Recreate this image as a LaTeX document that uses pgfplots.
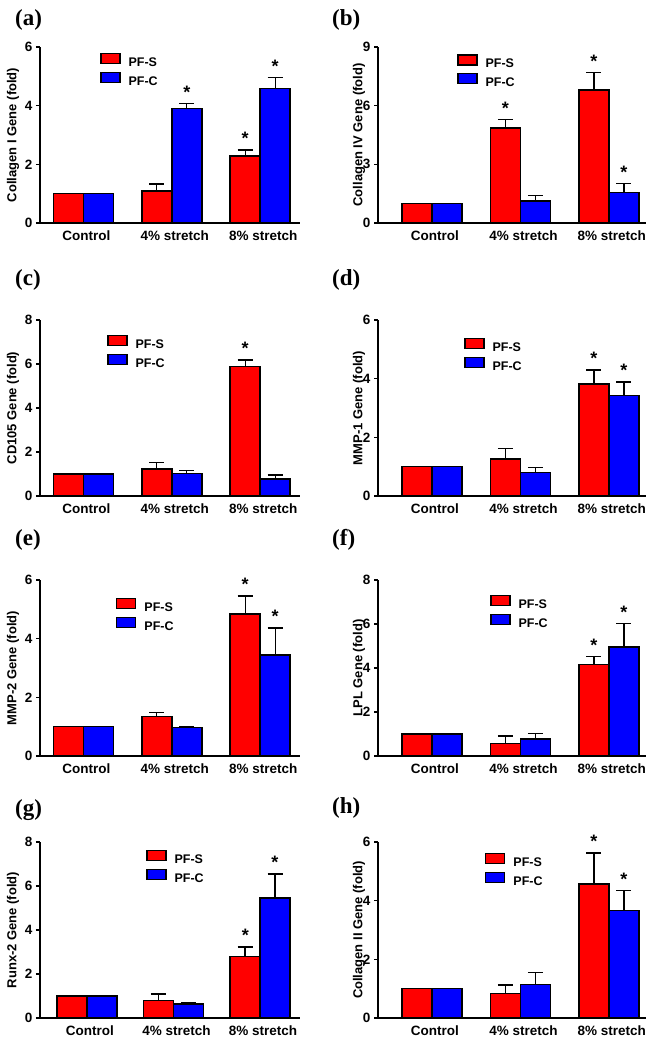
\documentclass[border=0pt]{standalone}
\usepackage{fontspec}
\setmainfont{Liberation Sans}
\newfontfamily\timesf{Liberation Serif}
\usepackage{pgfplots}
\pgfplotsset{compat=1.18}
\definecolor{legblue}{RGB}{150,150,210}
\newcommand{\tfont}{\fontsize{13.5}{15}\selectfont\bfseries}
\pgfplotsset{
 panel/.style={scale only axis, height=176pt, ymin=0, ybar=0pt, bar width=30pt,
   axis x line*=bottom, axis y line*=left,
   axis line style={line width=1.8pt, black},
   xtick={0,1,2}, xticklabels={Control,4\% stretch,8\% stretch},
   x tick style={draw=none}, y tick style={line width=1.5pt, black},
   tick align=outside, major tick length=4pt,
   ticklabel style={font=\tfont}, xticklabel style={xshift=3pt},
   /pgf/number format/assume math mode=true, clip=false,
   ylabel style={font=\fontsize{13}{15}\selectfont\bfseries, anchor=center},
   legend cell align=left,
   legend style={draw=none, fill=none, inner sep=0pt, outer sep=0pt, anchor=north west,
     font=\fontsize{12.5}{14}\selectfont\bfseries, row sep=2.5pt, column sep=7pt,
     nodes={inner sep=1pt}}},
 starax/.style={scale only axis, height=176pt, ymin=0, hide axis, clip=false},
 leftc/.style={at={(40pt,#1)}, anchor=south west, width=260pt, xmin=-0.49, xmax=2.45,
   ylabel style={at={(axis description cs:-0.104,0.5)}}},
 rightc/.style={at={(378pt,#1)}, anchor=south west, width=268pt, xmin=-0.61, xmax=2.42,
   ylabel style={at={(axis description cs:-0.071,0.5)}}},
 redbar/.style={fill=red, draw=black, line width=1.5pt,
   postaction={draw=black, line width=1.5pt},
   legend image code/.code={\draw[fill=red, draw=black, line width=1.3pt] (0pt,-0.5pt) rectangle (19pt,9.5pt);},
   error bars/y dir=plus, error bars/y explicit,
   error bars/error bar style={line width=1.3pt, black},
   error bars/error mark options={rotate=90, mark size=7.5pt, line width=1.3pt, black}},
 bluebar/.style={fill=blue, draw=black, line width=1.5pt,
   postaction={draw=black, line width=1.5pt},
   legend image code/.code={\draw[fill=blue, draw=legblue, line width=1.3pt] (0pt,-0.5pt) rectangle (19pt,9.5pt);},
   error bars/y dir=plus, error bars/y explicit,
   error bars/error bar style={line width=1.3pt, black},
   error bars/error mark options={rotate=90, mark size=7.5pt, line width=1.3pt, black}},
 stars/.style={draw=none, mark=none, nodes near coords={*},
   every node near coord/.append style={font=\fontsize{18}{18}\selectfont\bfseries, black, inner sep=1pt, anchor=south, yshift=4pt}},
}
\begin{document}
\begin{tikzpicture}[x=1pt,y=1pt]
\useasboundingbox (0,0) rectangle (663pt,-1045pt);
% panel labels
\foreach \lab/\px/\py in {(a)/15/-20,(b)/332/-20,(c)/15/-280,(d)/332/-280,(e)/15/-540,(f)/332/-540,(g)/15/-810,(h)/332/-808}{
  \node[anchor=west, inner sep=0pt, font=\timesf\bfseries\fontsize{23}{23}\selectfont] at (\px pt,\py pt) {\lab};
}
% (a)
\begin{axis}[panel, leftc=-223pt, ymax=6, ytick={0,2,4,6}, ylabel={Collagen I Gene (fold)}, legend style={at={(0.231,0.966)}}]
\addplot[redbar] coordinates {(0,1) +- (0,0) (1,1.09) +- (0,0.24) (2,2.29) +- (0,0.20)};
\addplot[bluebar] coordinates {(0,1) +- (0,0) (1,3.90) +- (0,0.18) (2,4.59) +- (0,0.38)};
\legend{PF-S,PF-C}
\end{axis}
\begin{axis}[starax, leftc=-223pt, ymax=6]
\addplot[stars] coordinates {(1.17,4.08) (1.83,2.49) (2.17,4.97)};
\end{axis}
% (b)
\begin{axis}[panel, rightc=-223pt, ymax=9, ytick={0,3,6,9}, ylabel={Collagen IV Gene (fold)}, legend style={at={(0.295,0.960)}}]
\addplot[redbar] coordinates {(0,1) +- (0,0) (1,4.86) +- (0,0.43) (2,6.79) +- (0,0.91)};
\addplot[bluebar] coordinates {(0,1) +- (0,0) (1,1.13) +- (0,0.27) (2,1.55) +- (0,0.48)};
\legend{PF-S,PF-C}
\end{axis}
\begin{axis}[starax, rightc=-223pt, ymax=9]
\addplot[stars] coordinates {(0.83,5.29) (1.83,7.70) (2.17,2.03)};
\end{axis}
% (c)
\begin{axis}[panel, leftc=-496pt, ymax=8, ytick={0,2,4,6,8}, ylabel={CD105 Gene (fold)}, legend style={at={(0.258,0.915)}}]
\addplot[redbar] coordinates {(0,1) +- (0,0) (1,1.23) +- (0,0.30) (2,5.88) +- (0,0.30)};
\addplot[bluebar] coordinates {(0,1) +- (0,0) (1,1.03) +- (0,0.14) (2,0.77) +- (0,0.18)};
\legend{PF-S,PF-C}
\end{axis}
\begin{axis}[starax, leftc=-496pt, ymax=8]
\addplot[stars] coordinates {(1.83,6.18)};
\end{axis}
% (d)
\begin{axis}[panel, rightc=-496pt, ymax=6, ytick={0,2,4,6}, ylabel={MMP-1 Gene (fold)}, legend style={at={(0.321,0.898)}}]
\addplot[redbar] coordinates {(0,1) +- (0,0) (1,1.26) +- (0,0.35) (2,3.82) +- (0,0.48)};
\addplot[bluebar] coordinates {(0,1) +- (0,0) (1,0.81) +- (0,0.17) (2,3.43) +- (0,0.46)};
\legend{PF-S,PF-C}
\end{axis}
\begin{axis}[starax, rightc=-496pt, ymax=6]
\addplot[stars] coordinates {(1.83,4.30) (2.17,3.89)};
\end{axis}
% (e)
\begin{axis}[panel, leftc=-756pt, ymax=6, ytick={0,2,4,6}, ylabel={MMP-2 Gene (fold)}, legend style={at={(0.292,0.898)}}]
\addplot[redbar] coordinates {(0,1) +- (0,0) (1,1.34) +- (0,0.14) (2,4.84) +- (0,0.61)};
\addplot[bluebar] coordinates {(0,1) +- (0,0) (1,0.97) +- (0,0.04) (2,3.45) +- (0,0.91)};
\legend{PF-S,PF-C}
\end{axis}
\begin{axis}[starax, leftc=-756pt, ymax=6]
\addplot[stars] coordinates {(1.83,5.45) (2.17,4.36)};
\end{axis}
% (f)
\begin{axis}[panel, rightc=-756pt, ymax=8, ytick={0,2,4,6,8}, ylabel={LPL Gene (fold)}, legend style={at={(0.418,0.915)}}]
\addplot[redbar] coordinates {(0,1) +- (0,0) (1,0.58) +- (0,0.33) (2,4.17) +- (0,0.35)};
\addplot[bluebar] coordinates {(0,1) +- (0,0) (1,0.77) +- (0,0.25) (2,4.95) +- (0,1.07)};
\legend{PF-S,PF-C}
\end{axis}
\begin{axis}[starax, rightc=-756pt, ymax=8]
\addplot[stars] coordinates {(1.83,4.52) (2.17,6.02)};
\end{axis}
% (g)
\begin{axis}[panel, leftc=-1018pt, xmin=-0.54, xmax=2.46, ymax=8, ytick={0,2,4,6,8}, ylabel={Runx-2 Gene (fold)}, legend style={at={(0.408,0.955)}}]
\addplot[redbar] coordinates {(0,1) +- (0,0) (1,0.80) +- (0,0.29) (2,2.80) +- (0,0.43)};
\addplot[bluebar] coordinates {(0,1) +- (0,0) (1,0.64) +- (0,0.04) (2,5.45) +- (0,1.10)};
\legend{PF-S,PF-C}
\end{axis}
\begin{axis}[starax, leftc=-1018pt, xmin=-0.54, xmax=2.46, ymax=8]
\addplot[stars] coordinates {(1.83,3.23) (2.17,6.55)};
\end{axis}
% (h)
\begin{axis}[panel, rightc=-1018pt, ymax=6, ytick={0,2,4,6}, ylabel={Collagen II Gene (fold)}, legend style={at={(0.399,0.938)}}]
\addplot[redbar] coordinates {(0,1) +- (0,0) (1,0.83) +- (0,0.30) (2,4.57) +- (0,1.06)};
\addplot[bluebar] coordinates {(0,1) +- (0,0) (1,1.14) +- (0,0.42) (2,3.66) +- (0,0.68)};
\legend{PF-S,PF-C}
\end{axis}
\begin{axis}[starax, rightc=-1018pt, ymax=6]
\addplot[stars] coordinates {(1.83,5.63) (2.17,4.34)};
\end{axis}
\end{tikzpicture}
\end{document}
